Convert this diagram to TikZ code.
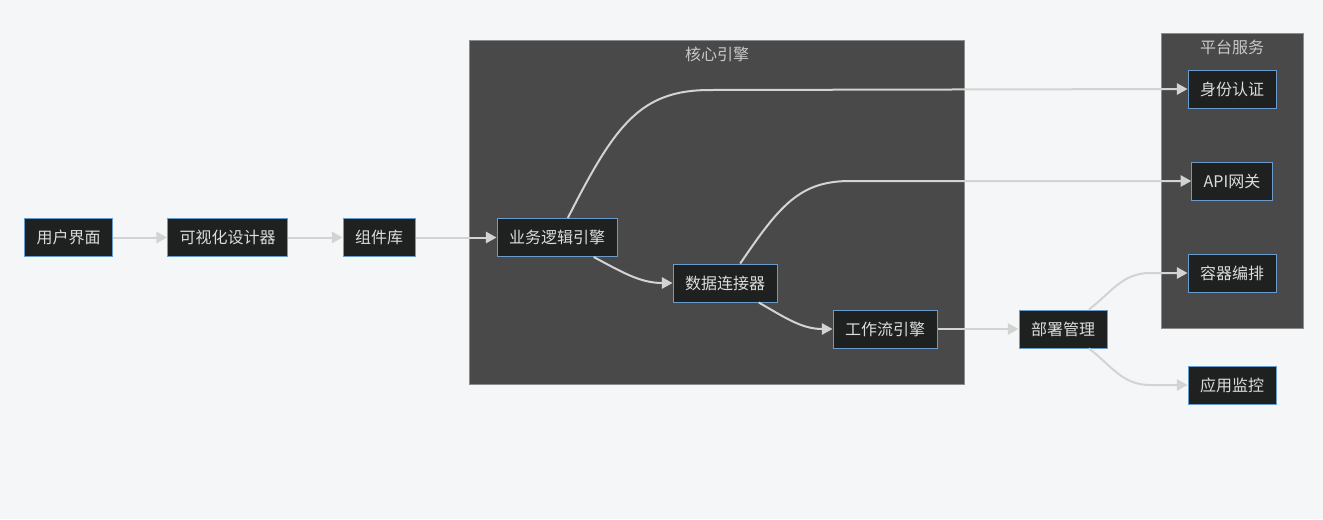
\documentclass[tikz,border=0pt]{standalone}
\usepackage{fontspec}
\setmainfont{Noto Sans CJK SC}
\usetikzlibrary{arrows.meta}
\definecolor{pagebg}{HTML}{F5F6F8}
\definecolor{groupbg}{HTML}{484948}
\definecolor{groupline}{HTML}{8C8C8C}
\definecolor{boxbg}{HTML}{1F2020}
\definecolor{boxline}{HTML}{6A9CCB}
\definecolor{boxtext}{HTML}{DCDCDC}
\definecolor{grouptext}{HTML}{C8C8C8}
\definecolor{linkline}{HTML}{D3D3D3}
\begin{document}
\begin{tikzpicture}[x=0.75pt, y=-0.75pt,
    box/.style={draw=boxline, line width=0.75pt, fill=boxbg, text=boxtext,
      font=\fontsize{12}{14}\selectfont, minimum height=28.5pt, inner xsep=9pt},
    group/.style={draw=groupline, line width=0.75pt, fill=groupbg},
    grouptitle/.style={text=grouptext, font=\fontsize{12}{14}\selectfont},
    link/.style={draw=linkline, line width=1.5pt,
      -{Triangle[length=8pt, width=8.5pt]}}]
    \fill[pagebg] (0,0) rectangle (1323,519);
    % subgraphs
    \draw[group] (469,40) rectangle (964,384);
    \node[grouptitle] (coreTitle) at (717,54) {核心引擎};
    \draw[group] (1161,33) rectangle (1303,328);
    \node[grouptitle] (platTitle) at (1232,47) {平台服务};
    % nodes
    \foreach \n/\x/\y/\t in {ui/68.5/237.5/用户界面, designer/227.5/237.5/可视化设计器,
        lib/379/237.5/组件库, biz/557/237.5/业务逻辑引擎, data/725/283/数据连接器,
        flow/885/329/工作流引擎, deploy/1063/329/部署管理, auth/1232/89/身份认证,
        api/1232/181/API网关, orch/1232/273/容器编排, mon/1232/385/应用监控} {
      \node[box] (\n) at (\x,\y) {\t};
    }
    % straight links
    \foreach \a/\b in {ui/designer, designer/lib, lib/biz, flow/deploy} {
      \draw[link] (\a) -- (\b);
    }
    % curved links
    \draw[link] (biz.61) .. controls (615,125) and (640,90) .. (710,90) -- (auth.west);
    \draw[link] (data.52) .. controls (780,205) and (800,181) .. (850,181) -- (api.west);
    \draw[link] (biz.-28) to[out=-28, in=180] (data.west);
    \draw[link] (data.-30) to[out=-30, in=180] (flow.west);
    \draw[link] (deploy.37) to[out=37, in=180] (1150,273) -- (orch.west);
    \draw[link] (deploy.-37) to[out=-37, in=180] (1150,385) -- (mon.west);
\end{tikzpicture}
\end{document}
